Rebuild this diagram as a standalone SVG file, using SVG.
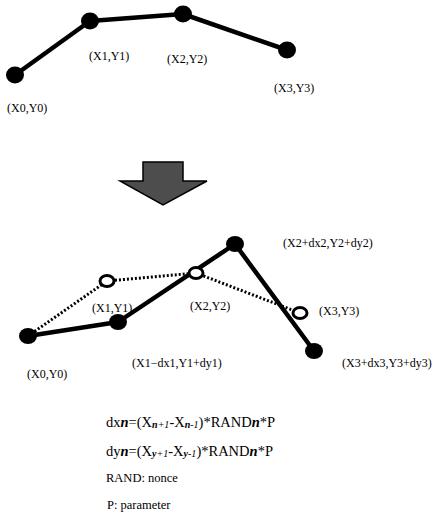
<svg xmlns="http://www.w3.org/2000/svg" width="439" height="519" viewBox="0 0 439 519">
<style>
.lbl{font-family:"Liberation Serif","Times New Roman",serif;font-size:12px;fill:#000}
.f{font-family:"Liberation Serif","Times New Roman",serif;font-size:14.5px;fill:#000}
.s{font-family:"Liberation Serif","Times New Roman",serif;font-size:12.5px;fill:#000}
.bi{font-weight:bold;font-style:italic}
.sub{font-size:10px;font-style:italic}
.solid{stroke:#000;stroke-width:4.5;fill:none;stroke-linejoin:round}
.dot{stroke:#000;stroke-width:3;fill:none;stroke-dasharray:2 2}
.node{fill:#000}
.open{fill:#fff;stroke:#000;stroke-width:3}
</style>
<g id="connectors">
<polyline class="solid" points="15,75 90,21 183,14 287,50"/>
<polyline class="solid" points="28,336 118,322 235,244 314,351"/>
<line class="dot" x1="28" y1="336" x2="107" y2="281"/>
<line class="dot" x1="107" y1="281" x2="196" y2="273"/>
<line class="dot" x1="196" y1="273" x2="300" y2="313"/>
</g>
<g id="top-x0"><ellipse class="node" cx="15" cy="75" rx="9" ry="8.5"/><text class="lbl" x="7" y="112">(X0,Y0)</text></g>
<g id="top-x1"><ellipse class="node" cx="90" cy="21" rx="9" ry="8.5"/><text class="lbl" x="89" y="60">(X1,Y1)</text></g>
<g id="top-x2"><ellipse class="node" cx="183" cy="14" rx="9" ry="8.5"/><text class="lbl" x="167" y="63">(X2,Y2)</text></g>
<g id="top-x3"><ellipse class="node" cx="287" cy="50" rx="9" ry="8.5"/><text class="lbl" x="274" y="92">(X3,Y3)</text></g>
<g id="arrow"><polygon points="143,162 183,162 183,181 207,181 163,205 120,181 143,181" fill="#4d4d4d" stroke="#000" stroke-width="1.5" stroke-linejoin="miter"/></g>
<g id="new-x0"><ellipse class="node" cx="28" cy="336" rx="9" ry="8"/><text class="lbl" x="27" y="378">(X0,Y0)</text></g>
<g id="new-x1"><ellipse class="node" cx="118" cy="322" rx="9" ry="8"/><text class="lbl" x="132" y="367">(X1−dx1,Y1+dy1)</text></g>
<g id="new-x2"><ellipse class="node" cx="235" cy="244" rx="9" ry="8"/><text class="lbl" x="283" y="247">(X2+dx2,Y2+dy2)</text></g>
<g id="new-x3"><ellipse class="node" cx="314" cy="351" rx="9" ry="8"/><text class="lbl" x="342" y="367">(X3+dx3,Y3+dy3)</text></g>
<g id="old-x1"><ellipse class="open" cx="107" cy="281" rx="7" ry="5.5"/><text class="lbl" x="92" y="312">(X1,Y1)</text></g>
<g id="old-x2"><ellipse class="open" cx="196" cy="273" rx="7" ry="5.5"/><text class="lbl" x="190" y="310">(X2,Y2)</text></g>
<g id="old-x3"><ellipse class="open" cx="300" cy="313" rx="7" ry="5.5"/><text class="lbl" x="319" y="315">(X3,Y3)</text></g>
<g id="formulas">
<text class="f" x="106" y="427">dx<tspan class="bi">n</tspan>=(X<tspan class="sub" dy="1"><tspan class="bi">n</tspan>+1</tspan><tspan dy="-1">-X</tspan><tspan class="sub" dy="1"><tspan class="bi">n</tspan>-1</tspan><tspan dy="-1">)*RAND</tspan><tspan class="bi">n</tspan>*P</text>
<text class="f" x="106" y="456">dy<tspan class="bi">n</tspan>=(X<tspan class="sub" dy="1"><tspan class="bi">y</tspan>+1</tspan><tspan dy="-1">-X</tspan><tspan class="sub" dy="1"><tspan class="bi">y</tspan>-1</tspan><tspan dy="-1">)*RAND</tspan><tspan class="bi">n</tspan>*P</text>
<text class="s" x="106" y="482">RAND: nonce</text>
<text class="s" x="107" y="509">P: parameter</text>
</g>
</svg>
